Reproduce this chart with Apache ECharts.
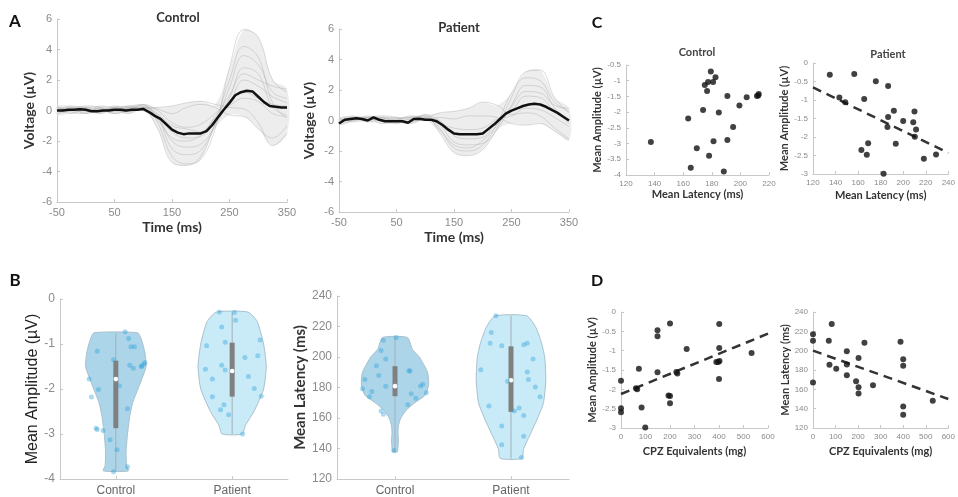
<!DOCTYPE html>
<html>
<head>
<meta charset="utf-8">
<script src="https://cdn.jsdelivr.net/npm/echarts@6/dist/echarts.min.js"></script>
<style>
html, body { margin: 0; padding: 0; background: #fff; }
#main { width: 958px; height: 497px; }
</style>
</head>
<body>
<div id="main"></div>
<script>
// ---- A: ERP traces (ms, uV) ----
var traceTimes = [-50, -25, 0, 25, 50, 75, 100, 125, 150, 175, 200, 225, 250, 275, 300, 325, 350];
var controlTraces = [
    [0.1, 0.2, 0.1, -0.1, 0.2, 0.3, 0.4, -0.8, -3.0, -3.5, -3.2, -1.2, 2.8, 5.3, 4.8, 2.0, 1.2],
    [-0.2, 0.0, 0.2, 0.1, -0.1, 0.2, 0.1, -1.2, -3.4, -3.6, -3.0, -0.8, 2.0, 4.2, 3.5, 0.5, -0.5],
    [0.2, -0.1, -0.2, 0.3, 0.1, -0.2, 0.2, -0.5, -2.5, -2.9, -2.6, -0.9, 1.5, 3.6, 3.0, 1.2, 0.8],
    [0.0, 0.3, 0.1, -0.2, 0.2, 0.1, 0.3, -0.4, -2.0, -2.4, -2.2, -1.0, 0.8, 2.8, 2.4, 0.2, -0.3],
    [-0.1, 0.1, -0.2, 0.2, 0.0, 0.3, 0.0, -0.3, -1.4, -1.8, -1.7, -0.6, 0.5, 2.0, 1.6, 0.9, 0.5],
    [0.3, 0.0, 0.2, -0.1, 0.3, 0.1, 0.4, 0.0, -0.8, -1.1, -0.9, -0.2, 0.6, 1.2, 0.8, 0.4, 0.3],
    [-0.3, 0.2, 0.0, 0.1, -0.2, 0.2, 0.1, 0.2, 0.3, 0.5, 0.6, 0.4, 0.2, 0.1, -0.8, -2.3, -1.5],
    [0.1, -0.2, 0.1, 0.0, 0.2, -0.1, 0.2, 0.1, -0.2, 0.2, 0.4, 0.2, -0.3, -0.4, -1.2, -1.8, -1.0],
    [0.0, 0.1, 0.3, 0.2, -0.2, 0.0, 0.2, -0.6, -1.8, -2.0, -1.6, -0.4, 1.0, 2.4, 2.0, 1.6, 1.4],
    [0.2, 0.0, -0.1, 0.1, 0.1, 0.2, 0.3, -0.2, -1.0, -1.2, -1.4, -0.5, 0.3, 0.8, 0.6, -0.2, -0.4]
];
var patientTraces = [
    [-0.2, 0.1, 0.2, 0.0, 0.1, 0.2, 0.3, -0.8, -2.1, -2.3, -1.9, -0.5, 1.5, 3.2, 3.3, 1.5, 0.5],
    [0.1, 0.3, 0.0, 0.2, -0.1, 0.0, 0.4, -0.5, -1.8, -2.0, -1.6, -0.2, 1.8, 2.8, 2.6, 1.2, 0.6],
    [-0.3, 0.0, 0.2, 0.3, 0.2, -0.2, 0.1, -0.3, -1.4, -1.6, -1.5, -0.6, 1.0, 2.3, 2.2, 0.8, -0.2],
    [0.0, 0.2, -0.1, 0.1, 0.2, 0.2, 0.3, 0.0, -1.0, -1.2, -1.1, 0.0, 0.6, 1.6, 1.5, 0.6, 0.0],
    [0.2, -0.1, 0.2, -0.2, 0.0, 0.3, 0.2, 0.5, 0.6, 0.8, 1.2, 1.0, 0.4, 0.5, 0.3, -0.5, -1.2],
    [-0.1, 0.2, 0.1, 0.0, -0.2, 0.1, 0.0, 0.2, 0.1, 0.3, 0.3, 0.2, -0.2, -0.3, -0.2, -0.7, -1.3],
    [0.1, 0.0, 0.3, 0.1, 0.0, -0.1, 0.2, -0.6, -1.6, -1.8, -1.3, -0.3, 0.9, 1.9, 1.8, 1.0, 0.8],
    [-0.2, 0.1, 0.0, 0.2, 0.1, 0.1, 0.1, -0.2, -0.5, -0.6, -0.5, 0.1, 0.3, 0.8, 0.7, 0.2, -0.4]
];
var controlMean = [[-50,0.0],[-40,0.0],[-30,0.05],[-20,0.05],[-10,0.08],[0,0.05],[10,-0.05],[20,-0.05],[30,0.0],[40,0.0],
    [50,0.05],[60,0.05],[70,0.0],[80,0.05],[90,0.05],[100,0.1],[110,-0.1],[120,-0.35],[130,-0.55],[140,-0.9],
    [150,-1.25],[160,-1.45],[170,-1.55],[180,-1.5],[190,-1.5],[200,-1.5],[210,-1.35],[220,-0.95],[230,-0.45],[240,0.05],
    [250,0.5],[260,1.0],[270,1.2],[280,1.3],[290,1.25],[300,0.9],[310,0.55],[320,0.3],[330,0.25],[340,0.2],[350,0.2]];
var patientMean = [[-50,-0.2],[-40,0.05],[-30,0.1],[-20,0.15],[-10,0.1],[0,0.0],[10,0.2],[20,0.05],[30,-0.05],[40,-0.05],
    [50,-0.05],[60,-0.05],[70,-0.15],[80,0.1],[90,0.12],[100,0.05],[110,0.05],[120,-0.05],[130,-0.3],[140,-0.6],
    [150,-0.85],[160,-0.9],[170,-0.9],[180,-0.9],[190,-0.9],[200,-0.85],[210,-0.55],[220,-0.25],[230,0.1],[240,0.45],
    [250,0.65],[260,0.8],[270,0.95],[280,1.05],[290,1.1],[300,1.05],[310,0.9],[320,0.7],[330,0.5],[340,0.25],[350,0.0]];
var timeTicks = [-50, 50, 150, 250, 350];

// ---- B: violins, [value, half width] and [q1, median, q3] ----
var groups = ['Control', 'Patient'];
var ctrlAmpShape = [[-0.75,0.187],[-0.9,0.22],[-1.2,0.25],[-1.5,0.26],[-1.8,0.22],[-2.0,0.19],[-2.3,0.145],[-2.6,0.12],[-3.0,0.10],[-3.4,0.088],[-3.7,0.092],[-3.82,0.107]];
var ptAmpShape = [[-0.29,0.135],[-0.5,0.215],[-1.0,0.27],[-1.5,0.293],[-2.0,0.27],[-2.5,0.187],[-2.8,0.115],[-3.0,0.086]];
var ctrlLatShape = [[212.8,0.107],[205,0.15],[200,0.21],[190,0.28],[182,0.29],[175,0.26],[170,0.17],[165,0.095],[160,0.05],[155,0.03],[150,0.026],[145,0.03],[140,0.025],[137.8,0.02]];
var ptLatShape = [[227,0.135],[220,0.21],[210,0.26],[200,0.29],[185,0.3],[170,0.28],[160,0.23],[150,0.17],[140,0.11],[133.5,0.092]];
var ctrlAmpBox = [-2.87, -1.78, -1.37];
var ptAmpBox = [-2.17, -1.6, -0.97];
var ctrlLatBox = [174.3, 180.9, 194];
var ptLatBox = [164, 184.8, 207];
// jittered subject dots: [offset from group centre, value]
var ctrlAmpDots = [[0.08,-0.73],[0.11,-0.875],[0.13,-1.06],[0.16,-1.06],[-0.16,-1.16],[-0.02,-1.35],[0.12,-1.47],[0.15,-1.54],
    [0.22,-1.49],[0.24,-1.45],[0.25,-1.41],[0.22,-1.5],[-0.23,-1.78],[-0.15,-2.01],[0.03,-1.93],[-0.21,-2.18],[0.10,-2.44],
    [-0.17,-2.87],[-0.16,-2.9],[-0.11,-2.92],[-0.05,-3.13],[0.01,-3.35],[0.10,-3.73],[-0.02,-3.84]];
var ptAmpDots = [[-0.11,-0.29],[0.02,-0.3],[0.03,-0.47],[-0.09,-0.62],[-0.22,-1.04],[-0.06,-0.96],[0.24,-0.91],[0.11,-1.3],
    [0.22,-1.26],[-0.23,-1.56],[-0.09,-1.47],[-0.06,-1.58],[-0.17,-1.78],[0.14,-1.72],[0.19,-1.99],[0.25,-2.16],[-0.17,-2.17],
    [-0.07,-2.35],[-0.10,-2.46],[-0.03,-2.57],[0.09,-3.0]];
var ctrlLatDots = [[0.01,212.8],[-0.10,211],[-0.12,204.3],[-0.08,198.7],[-0.16,194.3],[-0.14,187.8],[0.12,191],[0.13,190.8],
    [-0.08,180.9],[-0.26,185.2],[-0.28,179.1],[-0.20,177.4],[-0.22,174],[0.22,181],[0.24,182.2],[0.14,175.9],[0.18,173],
    [0.27,176.5],[0.11,168.7],[-0.12,164.6],[-0.10,162.4],[-0.01,138.7]];
var ptLatDots = [[-0.13,227],[-0.17,216],[-0.18,209],[-0.08,207.4],[-0.26,191.7],[-0.03,184.1],[0.11,208],[0.14,209],
    [0.19,198.7],[0.14,190.2],[0.15,185.2],[0.21,180.4],[0.25,173.9],[-0.19,167.8],[0.07,166.5],[0.03,164.6],[0.11,161.7],
    [-0.08,154.8],[0.11,148],[-0.08,142.4],[0.09,134.1]];

// ---- C: latency vs amplitude ----
var cControl = [[137.4,-2.95],[163.5,-2.2],[165.3,-3.77],[169.5,-3.15],[173.9,-1.93],[175.1,-1.14],[176.7,-1.33],[177.4,-1.04],
    [178.1,-3.39],[179.3,-0.71],[180.9,-1.04],[181.2,-2.93],[182.6,-0.89],[184.9,-2.01],[188.4,-3.89],[190.9,-2.89],[190.9,-1.49],
    [194.9,-2.47],[199.3,-1.79],[204.4,-1.53],[211.6,-1.49],[212.8,-1.42],[212.5,-1.47]];
var cPatient = [[134.9,-0.32],[156.6,-0.30],[175.7,-0.49],[186.6,-0.62],[143.4,-0.93],[148.6,-1.06],[165.4,-0.97],[191.7,-1.29],
    [210,-1.31],[186.6,-1.46],[186,-1.73],[200,-1.57],[208.9,-1.60],[211.4,-1.80],[210.3,-1.99],[168.9,-2.17],[193.4,-2.18],
    [162.9,-2.35],[167.7,-2.48],[218.3,-2.59],[229.1,-2.47],[182.6,-2.99]];
var cPatientFit = [[120,-0.66],[240,-2.43]];

// ---- D: CPZ equivalents ----
var dAmp = [[0,-1.78],[0,-2.49],[0,-2.59],[61,-1.97],[66,-2.0],[73,-1.47],[84,-2.47],[99,-2.99],[149,-0.47],[149,-0.63],
    [149,-1.56],[194,-2.16],[200,-2.17],[200,-2.36],[200,-0.30],[226,-1.55],[230,-1.59],[268,-0.96],[389,-1.29],[397,-1.29],
    [402,-1.27],[401,-0.31],[401,-0.93],[400,-1.73],[533,-1.06]];
var dLat = [[0,217],[0,210.2],[0,167],[83,227.7],[70,210.2],[73,185.5],[103,181.4],[150,199.5],[150,185.8],[150,174.5],
    [191,168.3],[202,162.2],[202,155.7],[202,192.3],[228,208.1],[266,164.2],[388,209.1],[400,191],[400,184.5],[400,142.3],
    [400,133.7],[531,148.1]];
var dAmpFit = [[0,-2.12],[600,-0.56]];
var dLatFit = [[0,200],[600,150]];

var tickFont = 'Liberation Sans, Arial, sans-serif';
var nameFont = 'Lato, Open Sans, sans-serif';

function axisBase(gi, min, max, interval, labelSize, name, nameSize, gap) {
    return {
        type: 'value', gridIndex: gi, min: min, max: max, interval: interval,
        axisLine: { show: true, onZero: false, lineStyle: { color: '#c8c8c8', width: 1 } },
        axisTick: { show: true, inside: true, length: 3, lineStyle: { color: '#c8c8c8' } },
        axisLabel: { color: '#8a8a8a', fontSize: labelSize, fontFamily: tickFont, margin: 5 },
        splitLine: { show: false },
        name: name, nameLocation: 'middle', nameGap: gap,
        nameTextStyle: { color: '#333', fontSize: nameSize, fontWeight: 'bold', fontFamily: nameFont }
    };
}

function violinSeries(xi, shapes, boxes, fills) {
    return {
        type: 'custom', xAxisIndex: xi, yAxisIndex: xi, silent: true, z: 2,
        data: [[1], [2]],
        renderItem: function (params, api) {
            var k = params.dataIndex, c = k + 1, shp = shapes[k], b = boxes[k];
            var pts = [], i;
            for (i = 0; i < shp.length; i++) pts.push(api.coord([c + shp[i][1], shp[i][0]]));
            for (i = shp.length - 1; i >= 0; i--) pts.push(api.coord([c - shp[i][1], shp[i][0]]));
            var top = api.coord([c, shp[0][0]]), bot = api.coord([c, shp[shp.length - 1][0]]);
            var lo = api.coord([c, b[0]]), med = api.coord([c, b[1]]), hi = api.coord([c, b[2]]);
            return {
                type: 'group', children: [
                    { type: 'polygon', shape: { points: pts, smooth: 0.2 }, style: { fill: fills[k], stroke: '#a9c0cc', lineWidth: 1 } },
                    { type: 'line', shape: { x1: top[0], y1: top[1], x2: bot[0], y2: bot[1] }, style: { stroke: '#a3afb6', lineWidth: 1 } },
                    { type: 'line', shape: { x1: lo[0], y1: lo[1], x2: hi[0], y2: hi[1] }, style: { stroke: '#808080', lineWidth: 5 } },
                    { type: 'circle', shape: { cx: med[0], cy: med[1], r: 2.3 }, style: { fill: '#fff' } }
                ]
            };
        }
    };
}

// light grey band covering the spread of the single-subject traces
function bandSeries(xi, traces) {
    var upper = traceTimes.map(function (t, i) {
        return [t, Math.max.apply(null, traces.map(function (tr) { return tr[i]; }))];
    });
    var lower = traceTimes.map(function (t, i) {
        return [t, Math.min.apply(null, traces.map(function (tr) { return tr[i]; }))];
    });
    return {
        type: 'custom', xAxisIndex: xi, yAxisIndex: xi, silent: true, z: 1,
        data: [[0]],
        renderItem: function (params, api) {
            var pts = upper.map(function (p) { return api.coord(p); });
            var low = lower.map(function (p) { return api.coord(p); }).reverse();
            return { type: 'polygon', shape: { points: pts.concat(low), smooth: 0.35 }, style: { fill: '#ededed' } };
        }
    };
}

function dotSeries(xi, dots, c) {
    return {
        type: 'scatter', xAxisIndex: xi, yAxisIndex: xi, silent: true, z: 3,
        symbolSize: 5,
        itemStyle: { color: 'rgba(45,160,218,0.5)' },
        data: dots.map(function (d) { return [c + d[0], d[1]]; })
    };
}

function traceSeries(xi, traces) {
    return traces.map(function (tr) {
        return {
            type: 'line', xAxisIndex: xi, yAxisIndex: xi, silent: true, smooth: 0.4, symbol: 'none', z: 2,
            lineStyle: { color: 'rgba(175,175,175,0.45)', width: 1 },
            data: traceTimes.map(function (t, i) { return [t, tr[i]]; })
        };
    });
}

function blackDots(xi, data) {
    return { type: 'scatter', xAxisIndex: xi, yAxisIndex: xi, silent: true, symbolSize: 6, itemStyle: { color: '#111' }, data: data, z: 4 };
}

function fitLine(xi, data) {
    return {
        type: 'line', xAxisIndex: xi, yAxisIndex: xi, silent: true, symbol: 'none', z: 3,
        lineStyle: { color: '#333', width: 2.5, type: [9, 6] }, data: data
    };
}

var catFormatter = function (v) { return v === 1 ? groups[0] : (v === 2 ? groups[1] : ''); };

var xAxes = [
    axisBase(0, -50, 350, 100, 11, 'Time (ms)', 14, 18),
    axisBase(1, -50, 350, 100, 11, 'Time (ms)', 14, 18),
    axisBase(2, 120, 220, 20, 8, 'Mean Latency (ms)', 11, 12),
    axisBase(3, 120, 240, 20, 8, 'Mean Latency (ms)', 11, 16),
    axisBase(4, 0.52, 2.48, 1, 12, '', 12, 10),
    axisBase(5, 0.5, 2.5, 1, 12, '', 12, 10),
    axisBase(6, 0, 600, 100, 8, 'CPZ Equivalents (mg)', 11, 18),
    axisBase(7, 0, 600, 100, 8, 'CPZ Equivalents (mg)', 11, 18)
];
[0, 1].forEach(function (i) {
    xAxes[i].axisLabel.customValues = timeTicks;
    xAxes[i].axisTick.customValues = timeTicks;
});
[4, 5].forEach(function (i) {
    xAxes[i].axisLabel.customValues = [1, 2];
    xAxes[i].axisTick.customValues = [1, 2];
    xAxes[i].axisLabel.formatter = catFormatter;
    xAxes[i].axisLabel.color = '#666';
    xAxes[i].axisLabel.margin = 6;
});

var yAxes = [
    axisBase(0, -6, 6, 2, 11, 'Voltage (\u00b5V)', 14, 21),
    axisBase(1, -6, 6, 2, 11, 'Voltage (\u00b5V)', 14, 23),
    axisBase(2, -4, -0.5, 0.5, 8, 'Mean Amplitude (\u00b5V)', 11, 16),
    axisBase(3, -3, 0, 0.5, 8, 'Mean Amplitude (\u00b5V)', 11, 13),
    axisBase(4, -4, 0, 1, 12, 'Mean Amplitude (\u00b5V)', 16, 17),
    axisBase(5, 120, 240, 20, 12, 'Mean Latency (ms)', 15, 27),
    axisBase(6, -3, 0, 0.5, 8, 'Mean Amplitude (\u00b5V)', 11, 13),
    axisBase(7, 120, 240, 20, 8, 'Mean Latency (ms)', 11, 17)
];
yAxes[4].nameTextStyle.fontWeight = 'normal';
yAxes[4].nameTextStyle.fontFamily = tickFont;
yAxes[4].nameTextStyle.color = '#222';

function label(text, x, y, size, color) {
    return {
        type: 'text', x: x, y: y, silent: true,
        style: { text: text, fill: color || '#111', font: 'bold ' + size + 'px ' + nameFont, align: 'center', verticalAlign: 'middle' }
    };
}

var series = [bandSeries(0, controlTraces), bandSeries(1, patientTraces)]
    .concat(traceSeries(0, controlTraces))
    .concat(traceSeries(1, patientTraces))
    .concat([
        { type: 'line', xAxisIndex: 0, yAxisIndex: 0, silent: true, symbol: 'none', z: 5, lineStyle: { color: '#111', width: 2.5 }, data: controlMean },
        { type: 'line', xAxisIndex: 1, yAxisIndex: 1, silent: true, symbol: 'none', z: 5, lineStyle: { color: '#111', width: 2.5 }, data: patientMean },
        blackDots(2, cControl),
        blackDots(3, cPatient),
        fitLine(3, cPatientFit),
        violinSeries(4, [ctrlAmpShape, ptAmpShape], [ctrlAmpBox, ptAmpBox], ['#acd5ea', '#c9ebf8']),
        violinSeries(5, [ctrlLatShape, ptLatShape], [ctrlLatBox, ptLatBox], ['#acd5ea', '#c9ebf8']),
        dotSeries(4, ctrlAmpDots, 1),
        dotSeries(4, ptAmpDots, 2),
        dotSeries(5, ctrlLatDots, 1),
        dotSeries(5, ptLatDots, 2),
        blackDots(6, dAmp),
        blackDots(7, dLat),
        fitLine(6, dAmpFit),
        fitLine(7, dLatFit)
    ]);

var chart = echarts.init(document.getElementById('main'));
chart.setOption({
    backgroundColor: '#fff',
    animation: false,
    grid: [
        { left: 57, top: 19, width: 230, height: 183 },
        { left: 339, top: 29, width: 230, height: 183 },
        { left: 626, top: 65, width: 143, height: 110 },
        { left: 813, top: 63, width: 140, height: 111 },
        { left: 60, top: 299, width: 228, height: 182 },
        { left: 337, top: 296, width: 232, height: 184 },
        { left: 621, top: 312, width: 147, height: 116 },
        { left: 813, top: 312, width: 148, height: 116 }
    ],
    xAxis: xAxes,
    yAxis: yAxes,
    graphic: [
        label('A', 15, 22, 17),
        label('Control', 178, 18, 13, '#333'),
        label('Patient', 459, 28, 13, '#333'),
        label('B', 15, 281, 17),
        label('C', 597, 23, 16),
        label('Control', 697, 52, 11, '#444'),
        label('Patient', 888, 54, 11, '#444'),
        label('D', 597, 281, 16)
    ],
    series: series
});
</script>
</body>
</html>
